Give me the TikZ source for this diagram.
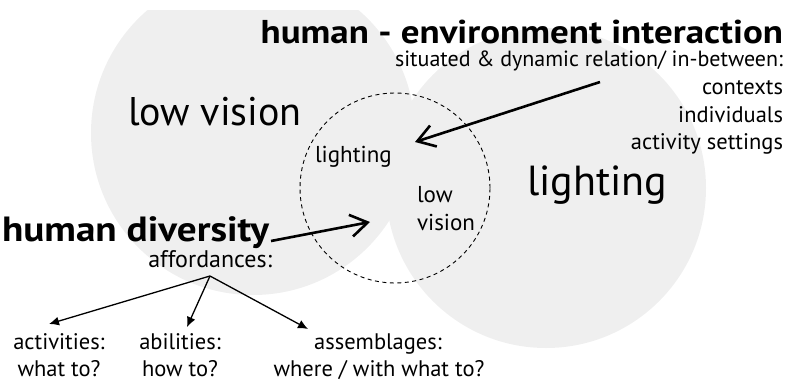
\documentclass[tikz,border=0pt]{standalone}
\usepackage{fontspec}
\setmainfont{PT Sans}
\newfontfamily\headfont{PT Sans}[FakeStretch=1.12]
\usetikzlibrary{arrows.meta}
\definecolor{blobgray}{RGB}{239,239,239}
\begin{document}
\begin{tikzpicture}[x=1pt,y=-1pt,
  txt/.style={inner sep=0pt,outer sep=0pt},
  boldhead/.style={txt,font=\headfont\bfseries\fontsize{33}{33}\selectfont},
  midtxt/.style={txt,font=\fontsize{22.5}{22.5}\selectfont},
  smalltxt/.style={txt,font=\fontsize{23}{23}\selectfont},
  bigtxt/.style={txt,font=\fontsize{40}{40}\selectfont},
  bigarrow/.style={line width=2.6pt,-{Straight Barb[length=17pt,width=22pt,line width=2.6pt]}},
  thinarrow/.style={line width=1.3pt,-{Latex[length=10pt,width=9pt]}},
  zonestyle/.style={draw,dashed,circle,line width=0.9pt,dash pattern=on 4pt off 3.5pt,minimum size=190pt,inner sep=0pt}
]
\useasboundingbox (0,0) rectangle (788,381);
\begin{scope}
  \clip (0,10) rectangle (788,381);
  \fill[blobgray] (253,133) circle[radius=162pt];
  \fill[blobgray] (546,188) circle[radius=160pt];
\end{scope}
\node[zonestyle] (zone) at (395,188) {};

% headings
\node[boldhead,anchor=base east] (hei) at (783,43) {human - environment interaction};
\node[txt,font=\fontsize{22}{22}\selectfont,anchor=base east] (sit) at (783,66) {situated \& dynamic relation/ in-between:};
\node[midtxt,anchor=base east] (ctx) at (783,94) {contexts};
\node[midtxt,anchor=base east] (ind) at (783,122) {individuals};
\node[midtxt,anchor=base east] (act) at (783,149) {activity settings};

\node[bigtxt,anchor=base west] (lv) at (128,125) {low vision};
\node[bigtxt,anchor=base west,font=\fontsize{42}{42}\selectfont] (lt) at (527,195) {lighting};

\node[smalltxt,anchor=base west] (slt) at (315,162) {lighting};
\node[smalltxt,anchor=base west] (slow) at (417,202) {low};
\node[smalltxt,anchor=base west] (svis) at (417,230) {vision};

\node[boldhead,anchor=base west,font=\headfont\bfseries\fontsize{35}{35}\selectfont] (hd) at (2,241) {human diversity};
\node[txt,anchor=base east,font=\fontsize{24}{24}\selectfont] (aff) at (272,267) {affordances:};

\node[midtxt,anchor=base] (a1) at (59,349) {activities:};
\node[midtxt,anchor=base] (a2) at (59,376) {what to?};
\node[midtxt,anchor=base] (b1) at (180,349) {abilities:};
\node[midtxt,anchor=base] (b2) at (180,376) {how to?};
\node[midtxt,anchor=base] (c1) at (378,349) {assemblages:};
\node[midtxt,anchor=base] (c2) at (379,376) {where / with what to?};

% connectors
\coordinate (heistart) at (600,82);
\coordinate (heiend) at (415,142);
\draw[bigarrow] (heistart) -- (heiend);
\coordinate (hdstart) at (271,241);
\coordinate (hdend) at (370,222);
\draw[bigarrow] (hdstart) -- (hdend);

\coordinate (affroot) at (210,276);
\coordinate (ta) at (49,324);
\coordinate (tb) at (187,327);
\coordinate (tc) at (308,329);
\draw[thinarrow] (affroot) -- (ta);
\draw[thinarrow] (affroot) -- (tb);
\draw[thinarrow] (affroot) -- (tc);
\end{tikzpicture}
\end{document}
